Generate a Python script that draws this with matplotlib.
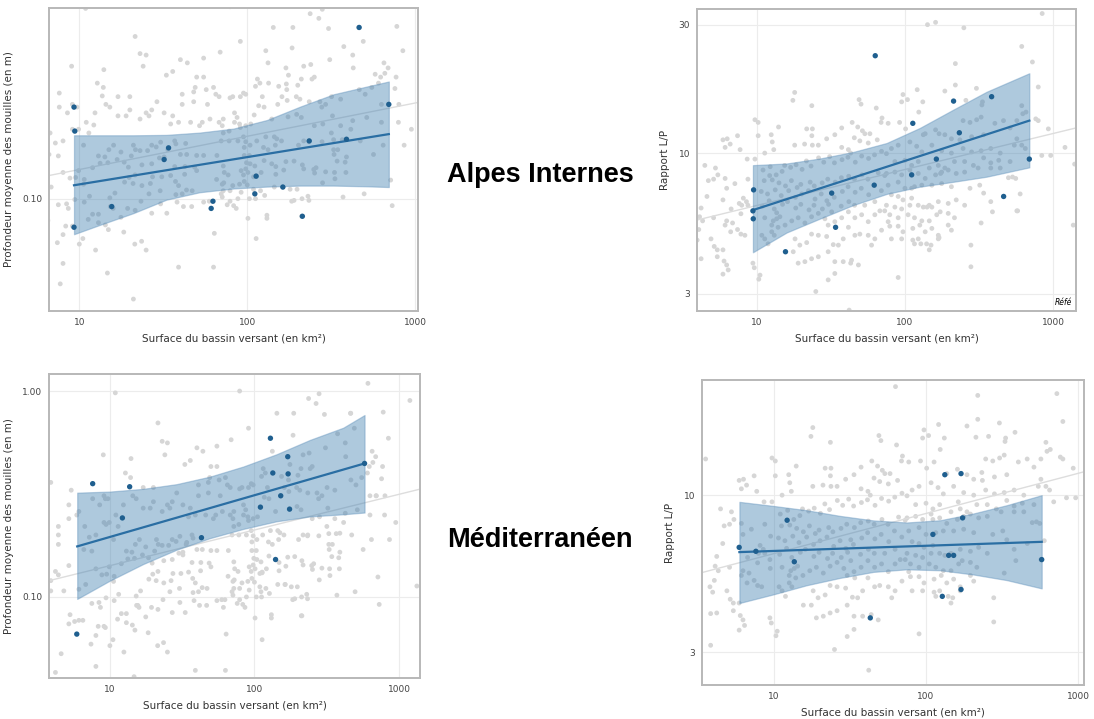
import numpy as np
import matplotlib
matplotlib.use("Agg")
import matplotlib.pyplot as plt

# ---- grey background cloud: all sites (area km², mean pool depth m) ----
depth_cloud = [
    (10.9, 0.98), (21.5, 0.70), (23, 0.57), (25, 0.56), (24, 0.49), (9.0, 0.49), (14, 0.47), (40, 0.53),
    (44, 0.51), (55, 0.54), (69, 0.58), (36, 0.46), (33, 0.44), (50, 0.43), (55, 0.43), (12.8, 0.40),
    (13.9, 0.38), (3.9, 0.36), (5.4, 0.33), (17, 0.34), (20, 0.34), (29, 0.32), (41, 0.35), (49, 0.38),
    (48, 0.36), (57, 0.37), (63, 0.38), (65, 0.35), (68, 0.34), (5.2, 0.28), (6.1, 0.26), (5.9, 0.25),
    (5.2, 0.24), (4.4, 0.22), (4.4, 0.20), (4.4, 0.18), (7.6, 0.30), (9.1, 0.31), (9.7, 0.30), (8.5, 0.28),
    (12.4, 0.28), (14.4, 0.31), (15.2, 0.30), (17, 0.27), (19, 0.27), (20, 0.29), (23, 0.26), (25, 0.28),
    (27, 0.29), (26, 0.27), (32, 0.28), (36, 0.27), (41, 0.31), (48, 0.32), (58, 0.31), (35, 0.245),
    (39, 0.25), (46, 0.25), (54, 0.25), (52, 0.24), (60, 0.26), (68, 0.25), (6.7, 0.22), (9.1, 0.23),
    (9.9, 0.23), (11, 0.25), (11.4, 0.22), (7.2, 0.195), (8.0, 0.20), (10.6, 0.19), (7.5, 0.167), (6.6, 0.17),
    (13, 0.167), (14.2, 0.165), (15, 0.18), (16, 0.19), (17.7, 0.175), (18.5, 0.155), (16.8, 0.16), (21, 0.19),
    (21.6, 0.18), (23, 0.178), (25.5, 0.178), (27, 0.19), (28.7, 0.186), (30.5, 0.197), (37, 0.20), (37.6, 0.193),
    (33.7, 0.18), (32, 0.165), (30, 0.163), (27, 0.152), (23.6, 0.15), (20.4, 0.167), (19.6, 0.146), (12, 0.145),
    (13.3, 0.153), (14.8, 0.154), (9.9, 0.14), (8.0, 0.137), (8.8, 0.128), (9.5, 0.129), (10.7, 0.126), (10.6, 0.119),
    (6.8, 0.115), (6.1, 0.109), (5.2, 0.142), (4.2, 0.133), (4.4, 0.128), (4.8, 0.107), (3.9, 0.107), (3.9, 0.12),
    (40, 0.17), (43.6, 0.17), (50, 0.168), (55, 0.168), (66, 0.168), (37, 0.147), (42.6, 0.147), (48.6, 0.146),
    (50, 0.14), (42.4, 0.134), (35, 0.132), (31, 0.130), (27.3, 0.13), (21.5, 0.133), (19.8, 0.129), (18.6, 0.122),
    (20.9, 0.12), (23.6, 0.117), (26.5, 0.12), (37.4, 0.123), (39, 0.117), (43.5, 0.111), (47, 0.11), (41, 0.106),
    (37.6, 0.105), (30.3, 0.11), (26, 0.106), (23.3, 0.097), (16.3, 0.107), (15.2, 0.101), (11.5, 0.103), (10.7, 0.096),
    (9.4, 0.099), (8.4, 0.094), (8.6, 0.089), (7.5, 0.093), (5.3, 0.082), (5.7, 0.076), (5.2, 0.074), (6.1, 0.077),
    (6.5, 0.077), (8.3, 0.072), (9.1, 0.072), (8.0, 0.065), (7.4, 0.059), (10, 0.058), (10.5, 0.062), (11.3, 0.078),
    (12, 0.083), (13, 0.083), (13, 0.075), (14.3, 0.073), (14.9, 0.069), (15.3, 0.091), (15.9, 0.089), (17.7, 0.08),
    (19.4, 0.089), (21.5, 0.087), (27, 0.084), (30.5, 0.094), (33.2, 0.084), (38.2, 0.096), (41.7, 0.091), (46.7, 0.091),
    (55, 0.096), (59.4, 0.097), (70, 0.106), (65.7, 0.126), (71, 0.119), (63.7, 0.066), (18.4, 0.067), (21.4, 0.058),
    (23.5, 0.060), (25, 0.054), (12.5, 0.054), (4.6, 0.053), (4.2, 0.043), (8.0, 0.046), (14.7, 0.041), (39, 0.044),
    (63, 0.044), (21, 0.030), (7.7, 0.036),
    (79, 1.0), (610, 1.09), (1190, 0.90), (280, 0.97), (237, 0.92), (267, 0.87), (143, 0.78), (187, 0.78),
    (305, 0.77), (462, 0.78), (778, 0.79), (91, 0.66), (185, 0.61), (376, 0.62), (491, 0.66), (845, 0.59),
    (133, 0.51), (217, 0.49), (239, 0.50), (251, 0.43), (243, 0.42), (176, 0.44), (310, 0.53), (425, 0.56),
    (428, 0.48), (652, 0.51), (690, 0.48), (660, 0.45), (770, 0.43), (623, 0.43), (115, 0.42), (119, 0.40),
    (112, 0.385), (154, 0.385), (210, 0.42), (200, 0.39), (172, 0.37), (95, 0.355), (98, 0.35), (91, 0.34),
    (82, 0.34), (79, 0.335), (123, 0.34), (117, 0.305), (126, 0.30), (161, 0.34), (173, 0.325), (196, 0.34),
    (206, 0.33), (234, 0.32), (271, 0.32), (278, 0.30), (293, 0.31), (318, 0.34), (360, 0.33), (465, 0.37),
    (504, 0.35), (552, 0.38), (605, 0.40), (758, 0.375), (630, 0.31), (694, 0.31), (800, 0.31), (72, 0.26),
    (71, 0.24), (84, 0.28), (87, 0.265), (84, 0.25), (90, 0.245), (98, 0.24), (105, 0.245), (91, 0.235),
    (78, 0.225), (72, 0.22), (140, 0.26), (197, 0.275), (210, 0.265), (251, 0.24), (282, 0.245), (322, 0.27),
    (360, 0.24), (425, 0.255), (515, 0.265), (630, 0.25), (795, 0.25), (950, 0.23), (860, 0.19), (645, 0.19),
    (565, 0.17), (715, 0.125), (730, 0.092), (1330, 0.113), (70, 0.20), (78, 0.20), (88, 0.20), (95, 0.21),
    (98, 0.198), (96, 0.185), (104, 0.19), (114, 0.20), (129, 0.21), (145, 0.21), (150, 0.205), (147, 0.19),
    (125, 0.185), (133, 0.18), (160, 0.20), (202, 0.19), (217, 0.20), (233, 0.198), (279, 0.198), (317, 0.22),
    (327, 0.203), (368, 0.203), (414, 0.23), (471, 0.20), (327, 0.18), (346, 0.18), (329, 0.17), (390, 0.165),
    (383, 0.155), (343, 0.157), (331, 0.137), (333, 0.127), (387, 0.137), (293, 0.138), (257, 0.145), (249, 0.142),
    (252, 0.136), (281, 0.121), (213, 0.15), (217, 0.143), (190, 0.157), (170, 0.156), (148, 0.147), (148, 0.134),
    (165, 0.141), (126, 0.158), (96, 0.168), (103, 0.168), (99, 0.154), (104, 0.152), (111, 0.148), (98, 0.143),
    (92, 0.14), (101, 0.137), (113, 0.132), (121, 0.137), (95, 0.133), (109, 0.130), (77, 0.133), (73, 0.137),
    (72, 0.148), (72.5, 0.121), (82, 0.117), (90, 0.119), (96, 0.123), (100, 0.118), (109, 0.112), (120, 0.110),
    (145, 0.115), (163, 0.115), (198, 0.112), (180, 0.112), (127, 0.104), (112, 0.100), (103, 0.100), (92, 0.108),
    (79, 0.110), (72, 0.110), (71, 0.102), (88, 0.100), (76, 0.093), (86, 0.089), (83, 0.092), (79, 0.097),
    (184, 0.097), (190, 0.098), (212, 0.100), (230, 0.103), (233, 0.098), (372, 0.102), (497, 0.106), (131, 0.082),
    (131, 0.079), (101, 0.079), (211, 0.081), (113, 0.062),
]

# ---- grey background cloud: all sites (area km², L/P ratio) ----
lp_cloud = [
    (18, 16.8), (17.5, 15.7), (23.5, 15), (49, 15.8), (50.5, 15.2), (64, 14.7), (9.7, 13.3), (10.2, 13),
    (14, 12.5), (12.5, 11.7), (10.2, 11.6), (7.4, 11.6), (6.3, 11.3), (5.9, 11.2), (6.6, 10.8), (6.1, 10.5),
    (7.7, 10.3), (8.6, 9.5), (9.7, 9.5), (11.3, 10), (12.7, 11), (13, 10.3), (18, 10.7), (21.7, 12.3),
    (23.7, 12.3), (23.5, 11.6), (21, 10.8), (23.7, 10.7), (26, 10.7), (29.6, 11.3), (33.6, 11.7), (37.4, 12.4),
    (44, 13), (48, 12.5), (51.6, 12.1), (53.6, 11.8), (58, 11.8), (69, 13), (70, 13.5), (45.5, 11.4),
    (49.6, 11.1), (56.5, 10.9), (65, 11.2), (37.4, 10.5), (41.5, 10.3), (43, 10.0), (4.45, 9.0), (5.25, 8.8),
    (5.45, 8.3), (4.7, 7.9), (5.1, 8.0), (6.1, 8.05), (6.25, 7.4), (7.1, 7.7), (8.7, 8.0), (8.1, 6.8),
    (8.5, 6.6), (7.9, 6.4), (8.7, 6.4), (7.8, 5.95), (6.7, 6.2), (4.2, 6.25), (4.6, 6.9), (4.1, 5.8),
    (4.3, 5.6), (5.1, 5.75), (6.25, 5.6), (6.1, 5.4), (6.85, 5.5), (6.65, 5.1), (7.4, 5.2), (7.8, 5.0),
    (8.3, 4.95), (4.05, 5.2), (3.95, 4.75), (4.9, 4.8), (5.15, 4.5), (5.4, 4.37), (5.9, 4.37), (5.4, 4.12),
    (6.0, 3.97), (6.25, 3.84), (6.4, 3.68), (5.9, 3.55), (4.2, 4.05), (9.4, 3.9), (9.6, 3.75), (10.5, 3.52),
    (10.3, 3.4), (11.3, 4.8), (11.9, 4.6), (13.1, 4.95), (12.6, 5.4), (13.6, 5.7),
    (11, 8.65), (12.3, 8.9), (13.5, 8.3), (14.8, 8.55), (15.4, 9.0), (16.9, 8.85), (18.4, 9.05), (20.2, 8.7),
    (21.6, 9.35), (23.2, 8.95), (26.1, 9.6), (28.3, 9.25), (31, 9.7), (33.4, 9.2), (37.6, 9.45), (41.2, 9.65),
    (46.2, 9.25), (51, 9.75), (56.8, 9.55), (62.3, 9.85), (69.5, 10.15), (75, 9.95), (11.2, 7.9), (12.7, 7.95),
    (14.1, 7.75), (15.6, 7.55), (17.1, 7.9), (18.7, 7.45), (19.8, 7.65), (22.9, 7.8), (24.4, 7.55), (27.6, 7.75),
    (30.1, 8.0), (33.8, 7.8), (37.2, 8.1), (41.7, 8.2), (45.6, 8.0), (51.3, 8.3), (56.2, 8.0), (66, 8.45),
    (73, 8.25), (10.7, 7.2), (11.8, 7.05), (13.3, 7.3), (14.6, 6.95), (16.4, 7.25), (18.2, 6.85), (20.1, 7.05),
    (22.3, 7.25), (24.7, 6.75), (27.2, 7.05), (29.7, 6.65), (33.3, 6.85), (37.8, 7.2), (41.3, 7.5), (46.1, 7.15),
    (50.7, 7.4), (56.9, 7.0), (69.3, 7.25), (10.9, 6.35), (12.1, 6.65), (13.1, 6.2), (14.9, 6.45), (16.1, 6.6),
    (18.3, 6.25), (19.8, 6.45), (22.5, 6.15), (24.3, 6.4), (27.7, 6.2), (30.5, 6.45), (32, 6.05), (37.1, 6.35),
    (41.8, 6.6), (45.7, 6.4), (53.5, 6.4), (62.6, 6.6), (67.7, 6.1), (11.3, 5.75), (12.9, 5.6), (14.3, 5.8),
    (15.5, 5.4), (17.2, 5.6), (19, 5.75), (21.1, 5.5), (23.4, 5.8), (26, 5.97), (28.8, 5.7), (12.6, 5.1),
    (13.9, 5.3), (10.8, 4.95), (18.1, 4.8), (19.5, 4.55), (21.7, 4.65), (23.4, 5.0), (26, 4.95), (29.6, 4.9),
    (30.3, 5.4), (33.6, 5.56), (37.4, 5.75), (41.5, 6.05), (45.9, 5.75), (51, 5.9), (56.5, 5.56), (62.6, 5.9),
    (73, 6.1), (77, 5.56), (69.5, 5.17), (62.6, 4.8), (59.5, 4.55), (56.5, 4.95), (49.6, 5.0), (45.9, 4.95),
    (41.5, 5.3), (38.3, 4.8), (35.5, 4.55), (32.8, 4.57), (30.3, 4.3), (26, 4.12), (23.4, 4.05), (21.1, 3.95),
    (19, 3.9), (17.6, 4.3), (33.6, 3.95), (38.3, 3.95), (43.6, 4.0), (48.5, 3.84), (33.6, 3.57), (30.3, 3.38),
    (25, 3.06), (42, 2.61),
    (845, 33), (161, 30.6), (142, 30), (250, 29.2), (615, 24.9), (726, 21.8), (219, 21.5), (795, 17.6),
    (304, 17.4), (219, 17.9), (186, 17), (121, 17.2), (97, 16.5), (95, 15.5), (104, 15.8), (132, 15.5),
    (258, 15.7), (124, 14.2), (334, 15.5), (331, 15.1), (615, 15), (765, 13.4), (795, 13.2), (930, 12.3),
    (1205, 10.5), (840, 9.8), (965, 9.8), (1400, 9.1), (1370, 5.4), (92, 13), (101, 12.3), (77, 12.9),
    (247, 13.2), (275, 13.0), (305, 13.3), (327, 13.6), (405, 12.9), (463, 13.2), (513, 12.4), (570, 13.2),
    (625, 14), (657, 14.2), (137, 11.8), (161, 12.2), (186, 11.7), (206, 11.3), (235, 11.2), (282, 11.5),
    (340, 11.7), (570, 11.3), (615, 10.7), (650, 10.4), (81, 10.4), (90, 10.7), (108, 11), (120, 10.6),
    (130, 10.1), (152, 10.7), (177, 10.2), (206, 10.0), (247, 10.4), (282, 10.1), (327, 10.2), (380, 10.4),
    (440, 10), (548, 10.7), (85.5, 9.3), (100, 9.4), (111, 9.0), (123, 9.3), (146, 8.8), (168, 9.0),
    (186, 8.8), (216, 9.3), (253, 9.3), (290, 9.0), (340, 9.6), (380, 9.2), (430, 9.4), (513, 9.3),
    (75, 8.4), (85.5, 8.5), (95, 8.3), (108, 8.65), (123, 8.4), (137, 8.05), (161, 8.3), (177, 8.5),
    (196, 8.65), (222, 8.4), (253, 8.5), (312, 8.8), (380, 8.8), (440, 8.8), (533, 8.15), (560, 8.05),
    (500, 8.1), (77, 7.6), (90, 7.8), (100, 7.4), (116, 7.5), (130, 7.6), (152, 7.6), (177, 7.7),
    (206, 7.5), (275, 7.4), (320, 7.6), (81, 7.0), (90, 6.9), (97, 6.7), (111, 6.8), (75, 6.4),
    (85.5, 6.3), (95, 6.2), (108, 6.4), (123, 6.4), (133, 6.3), (146, 6.4), (168, 6.6), (196, 6.5),
    (222, 6.7), (253, 6.4), (340, 7.1), (380, 6.6), (390, 6.05), (570, 6.1), (600, 7.05), (79, 5.9),
    (90, 5.75), (105, 5.9), (116, 5.75), (130, 5.6), (146, 5.6), (164, 5.9), (173, 6.05), (196, 5.97),
    (216, 5.75), (79, 5.35), (90, 5.35), (97, 5.1), (113, 5.25), (126, 5.4), (137, 5.1), (152, 5.25),
    (168, 4.95), (196, 5.4), (206, 5.17), (327, 5.5), (81, 4.8), (95, 4.8), (113, 4.75), (116, 4.6),
    (123, 4.8), (140, 4.6), (146, 4.37), (150, 4.55), (168, 4.8), (279, 4.55), (90, 3.45), (279, 3.78),
    (3.55, 13.2), (3.79, 4.95), (3.83, 4.03), (3.83, 3.16),
]

# ---- highlighted region: Alpes Internes ----
ai_depth_area = [9.3, 9.4, 9.3, 15.6, 32, 34, 62.5, 61, 113, 111, 163, 213, 234, 390, 464, 697]
ai_depth = [0.30, 0.225, 0.071, 0.091, 0.16, 0.184, 0.097, 0.089, 0.131, 0.106, 0.115, 0.081, 0.20, 0.204, 0.78, 0.31]
ai_lp_area = [9.5, 9.4, 9.45, 15.6, 32, 34, 63, 62, 113, 111, 163, 213, 233, 385, 464, 692]
ai_lp = [7.3, 6.1, 5.7, 4.3, 7.1, 5.3, 23, 7.6, 12.9, 8.3, 9.5, 15.6, 11.9, 16.2, 6.9, 9.5]

# fitted line and confidence band
ai_depth_fit_x = [9.3, 697]
ai_depth_fit_y = [0.1175, 0.217]
ai_depth_band_x = [9.3, 13.3, 21, 33, 52, 83, 131, 207, 327, 515, 697]
ai_depth_band_lo = [0.0653, 0.0731, 0.0841, 0.0988, 0.108, 0.113, 0.1156, 0.117, 0.117, 0.116, 0.115]
ai_depth_band_hi = [0.214, 0.214, 0.214, 0.215, 0.221, 0.232, 0.257, 0.302, 0.350, 0.384, 0.408]

ai_lp_fit_x = [9.4, 692]
ai_lp_fit_y = [6.14, 13.2]
ai_lp_band_x = [9.4, 15.9, 26.7, 44.8, 75.2, 126, 212, 356, 692]
ai_lp_band_lo = [4.28, 5.07, 5.71, 6.41, 7.05, 7.50, 7.82, 8.17, 8.85]
ai_lp_band_hi = [9.02, 9.15, 9.55, 10.1, 10.9, 12.4, 14.5, 16.9, 19.8]

# ---- highlighted region: Méditerranéen ----
med_depth_area = [5.9, 7.6, 12.2, 13.7, 43, 110, 129, 134, 140, 152, 170, 171, 175, 578]
med_depth = [0.066, 0.355, 0.242, 0.343, 0.194, 0.273, 0.59, 0.40, 0.152, 0.31, 0.48, 0.396, 0.267, 0.445]
med_lp_area = [5.9, 7.6, 12.2, 13.6, 43, 111, 128, 133, 141, 152, 170, 170, 174, 577]
med_lp = [6.7, 6.5, 8.25, 6.0, 3.9, 7.4, 4.6, 11.7, 6.3, 6.3, 11.8, 4.85, 8.4, 6.1]

med_depth_fit_x = [5.94, 578]
med_depth_fit_y = [0.176, 0.445]
med_depth_band_x = [5.94, 10, 17, 28.9, 49.2, 83.7, 142, 242, 412, 578]
med_depth_band_lo = [0.0978, 0.120, 0.1445, 0.1695, 0.193, 0.214, 0.233, 0.246, 0.252, 0.257]
med_depth_band_hi = [0.321, 0.325, 0.335, 0.353, 0.384, 0.430, 0.493, 0.579, 0.664, 0.765]

med_lp_fit_x = [5.92, 577]
med_lp_fit_y = [6.46, 6.99]
med_lp_band_x = [5.92, 9.9, 16.4, 27.2, 45.1, 74.7, 124, 205, 340, 577]
med_lp_band_lo = [4.37, 4.67, 5.01, 5.30, 5.55, 5.66, 5.62, 5.44, 5.21, 4.89]
med_lp_band_hi = [9.5, 9.21, 8.91, 8.53, 8.24, 8.11, 8.25, 8.69, 9.26, 10.0]

# national trend lines (two points on each)
depth_trend = [(3.8, 0.12), (1400, 0.334)]
lp_trend = [(3.94, 5.64), (1430, 12.4)]

GREY = "#d6d6d6"
BLUE = "#1f5f8f"
LINE = "#2a6ea3"
FILL = "#3f7fb0"
TXT = "#444444"

fig = plt.figure(figsize=(10.94, 7.19), dpi=100)
W, H = 1094, 719


def panel(box, cloud, others, area, vals, fit_x, fit_y, band_x, lo, hi, trend,
          xlim, ylim, yticks, ylabels, ylabel):
    l, t, r, b = box
    ax = fig.add_axes([l / W, 1 - b / H, (r - l) / W, (b - t) / H])
    ax.set_xscale("log")
    ax.set_yscale("log")
    cx, cy = np.array(cloud).T
    ax.scatter(cx, cy, s=12, color=GREY, edgecolors="none", zorder=2)
    for ox, oy in others:
        ax.scatter(ox, oy, s=12, color=GREY, edgecolors="none", zorder=2)
    ax.axline(trend[0], trend[1], color="#dddddd", lw=1, zorder=2)
    ax.fill_between(band_x, lo, hi, facecolor=FILL, alpha=0.42,
                    edgecolor="#5f91bb", linewidth=0.9, zorder=3)
    ax.plot(fit_x, fit_y, color=LINE, lw=1.6, zorder=4)
    ax.scatter(area, vals, s=15, color=BLUE, edgecolors="none", zorder=5)
    ax.set_xlim(*xlim)
    ax.set_ylim(*ylim)
    ax.set_xticks([10, 100, 1000], ["10", "100", "1000"])
    ax.set_yticks(yticks, ylabels)
    ax.minorticks_off()
    ax.grid(True, color="#ececec", lw=0.8, zorder=0)
    ax.set_axisbelow(True)
    ax.tick_params(length=0, labelsize=6.5, colors=TXT, pad=5)
    for s in ax.spines.values():
        s.set_color("#b8b8b8")
        s.set_linewidth(1.4)
    ax.set_xlabel("Surface du bassin versant (en km²)", fontsize=7.5, color="#333333", labelpad=5)
    ax.set_ylabel(ylabel, fontsize=7.5, color="#333333", labelpad=6)
    return ax


depth_label = "Profondeur moyenne des mouilles (en m)"

panel((49, 8, 418, 311), depth_cloud, [(med_depth_area, med_depth)],
      ai_depth_area, ai_depth, ai_depth_fit_x, ai_depth_fit_y,
      ai_depth_band_x, ai_depth_band_lo, ai_depth_band_hi, depth_trend,
      (6.6, 1040), (0.026, 0.985), [0.1], ["0.10"], depth_label)

ax2 = panel((697, 9, 1076, 311), lp_cloud, [(med_lp_area, med_lp)],
            ai_lp_area, ai_lp, ai_lp_fit_x, ai_lp_fit_y,
            ai_lp_band_x, ai_lp_band_lo, ai_lp_band_hi, lp_trend,
            (3.94, 1430), (2.59, 34.3), [3, 10, 30], ["3", "10", "30"], "Rapport L/P")
# the source screenshot shows only the start of this note, cut by the frame
ax2.text(0.99, 0.012, "Réfé", transform=ax2.transAxes, fontsize=5.5,
         style="italic", va="bottom", ha="right", zorder=6)

panel((49, 374, 420, 678), depth_cloud, [(ai_depth_area, ai_depth)],
      med_depth_area, med_depth, med_depth_fit_x, med_depth_fit_y,
      med_depth_band_x, med_depth_band_lo, med_depth_band_hi, depth_trend,
      (3.79, 1398), (0.0404, 1.21), [0.1, 1.0], ["0.10", "1.00"], depth_label)

panel((702, 380, 1084, 685), lp_cloud, [(ai_lp_area, ai_lp)],
      med_lp_area, med_lp, med_lp_fit_x, med_lp_fit_y,
      med_lp_band_x, med_lp_band_lo, med_lp_band_hi, lp_trend,
      (3.36, 1095), (2.33, 24.2), [3, 10], ["3", "10"], "Rapport L/P")

fig.text(447 / W, 1 - 182 / H, "Alpes Internes", fontsize=19.5, fontweight="bold",
         family=["Liberation Sans", "DejaVu Sans"], ha="left", va="baseline")
fig.text(447 / W, 1 - 547 / H, "Méditerranéen", fontsize=19.5, fontweight="bold",
         family=["Liberation Sans", "DejaVu Sans"], ha="left", va="baseline")

fig.savefig("out.png", dpi=100, facecolor="white")
